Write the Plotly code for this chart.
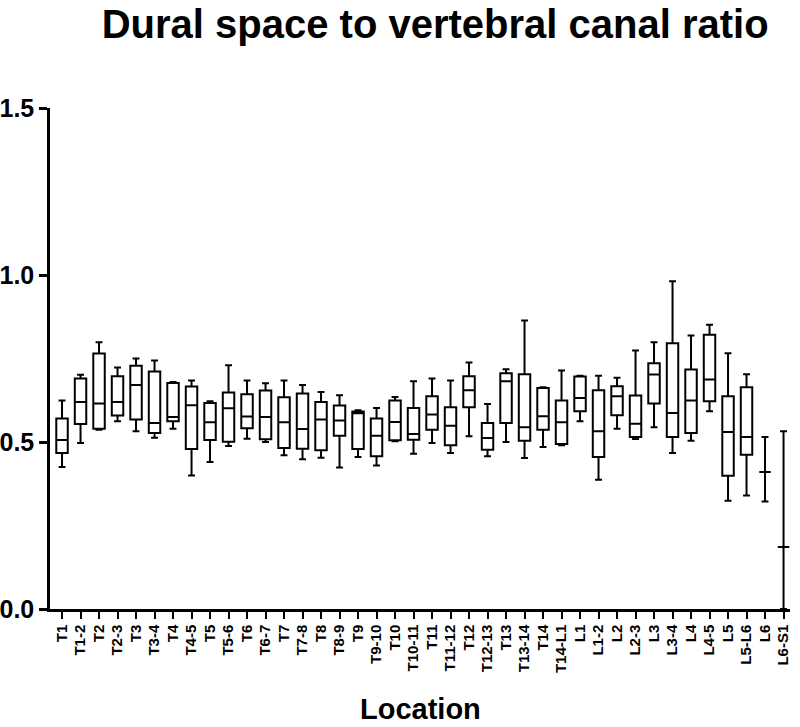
import plotly.graph_objects as go

cats = ["T1","T1-2","T2","T2-3","T3","T3-4","T4","T4-5","T5","T5-6","T6","T6-7",
        "T7","T7-8","T8","T8-9","T9","T9-10","T10","T10-11","T11","T11-12","T12",
        "T12-13","T13","T13-14","T14","T14-L1","L1","L1-2","L2","L2-3","L3","L3-4",
        "L4","L4-5","L5","L5-L6","L6","L6-S1"]

mins = [0.425,0.497,0.537,0.562,0.532,0.513,0.540,0.400,0.440,0.488,0.510,0.500,
        0.460,0.448,0.453,0.424,0.455,0.430,0.502,0.465,0.497,0.467,0.517,
        0.457,0.500,0.452,0.485,0.490,0.562,0.387,0.540,0.509,0.544,0.467,
        0.504,0.592,0.324,0.340,0.322,0.0]
q1 = [0.467,0.554,0.540,0.579,0.567,0.527,0.562,0.479,0.506,0.501,0.541,0.508,
      0.482,0.480,0.475,0.519,0.479,0.457,0.505,0.507,0.537,0.490,0.604,
      0.477,0.557,0.504,0.537,0.494,0.592,0.455,0.580,0.515,0.615,0.515,
      0.527,0.622,0.399,0.462,0.410,0.186]
medians = [0.506,0.620,0.615,0.620,0.671,0.557,0.575,0.610,0.559,0.601,0.576,0.575,
           0.559,0.539,0.567,0.564,0.586,0.519,0.560,0.524,0.582,0.549,0.655,
           0.512,0.682,0.544,0.577,0.559,0.632,0.532,0.637,0.555,0.702,0.587,
           0.624,0.687,0.530,0.515,0.410,0.186]
q3 = [0.570,0.690,0.765,0.697,0.728,0.711,0.677,0.666,0.617,0.648,0.643,0.654,
      0.634,0.645,0.620,0.609,0.591,0.570,0.624,0.602,0.637,0.604,0.697,
      0.557,0.706,0.703,0.662,0.624,0.696,0.655,0.667,0.639,0.736,0.796,
      0.717,0.821,0.637,0.664,0.410,0.186]
maxs = [0.624,0.701,0.799,0.723,0.750,0.744,0.680,0.684,0.622,0.730,0.684,0.676,
        0.684,0.671,0.650,0.640,0.595,0.602,0.635,0.682,0.690,0.684,0.738,
        0.614,0.718,0.864,0.664,0.714,0.698,0.698,0.692,0.774,0.799,0.981,
        0.819,0.851,0.766,0.703,0.515,0.532]

FONT = "Liberation Sans, Arial, Helvetica, sans-serif"

fig = go.Figure()
fig.add_trace(go.Box(
    x=cats, q1=q1, median=medians, q3=q3, lowerfence=mins, upperfence=maxs,
    fillcolor="white", line=dict(color="black", width=2),
    width=0.62, whiskerwidth=0.6, boxpoints=False, showlegend=False,
    hoverinfo="skip",
))

fig.update_layout(
    width=800, height=727,
    paper_bgcolor="white", plot_bgcolor="white",
    margin=dict(l=50, r=10, t=108, b=118, autoexpand=False),
    title=dict(text="Dural space to vertebral canal ratio",
               font=dict(family=FONT, size=40, color="black", weight="bold"),
               x=0.544, xref="container", xanchor="center",
               y=0.986, yref="container", yanchor="top", pad=dict(t=0)),
    xaxis=dict(type="category", range=[-0.65, 39.35], showline=True,
               automargin=False, tickmode="array", tickvals=cats, ticktext=cats,
               linecolor="black", linewidth=2.5, ticks="outside", ticklen=7,
               tickwidth=2, tickcolor="black", tickangle=-90, showgrid=False,
               tickfont=dict(family=FONT, size=15, color="black", weight="bold")),
    yaxis=dict(range=[0, 1.5], tickvals=[0, 0.5, 1.0, 1.5],
               automargin=False,
               ticktext=["0.0", "0.5", "1.0", "1.5"], showline=True,
               linecolor="black", linewidth=2.5, ticks="outside", ticklen=8,
               tickwidth=2.5, tickcolor="black", showgrid=False, zeroline=False,
               tickfont=dict(family=FONT, size=25, color="black", weight="bold")),
    annotations=[dict(text="Location", xref="paper", yref="paper", x=0.5,
                      y=-0.235, xanchor="center", yanchor="bottom",
                      showarrow=False,
                      font=dict(family=FONT, size=29, color="black", weight="bold"))],
)

fig.write_html("out.html", config={"displayModeBar": False},
               post_script="document.body.style.margin='0';document.body.style.padding='0';")
